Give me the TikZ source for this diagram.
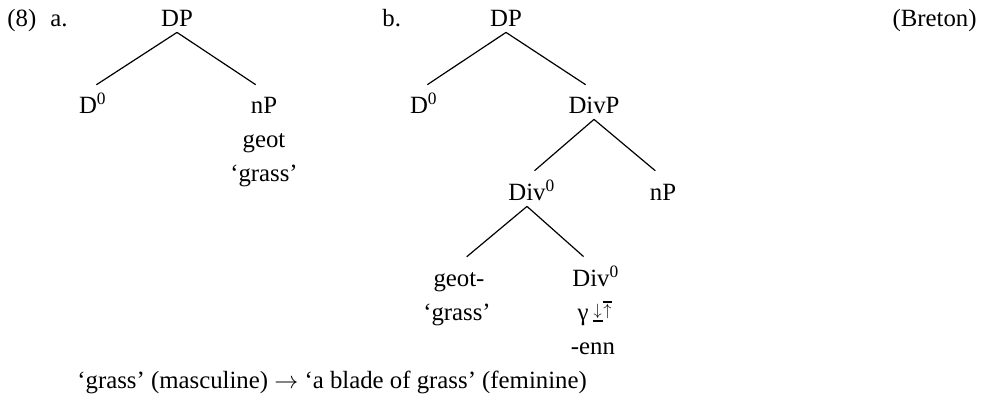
\documentclass[tikz,border=0pt]{standalone}
\usepackage{fontspec}
\setmainfont{Liberation Serif}
\usepackage{amsmath}
\usepackage{graphicx}
\usepackage{tikz}

\newcommand{\hd}[2]{#1\rlap{\textsuperscript{#2}}}
\newcommand{\arr}[1]{\makebox[0.4em]{\raisebox{0.17em}{\scalebox{0.68}{$#1$}}}}
\newcommand{\dnbar}{\rlap{\rule[-0.07em]{0.4em}{0.06em}}\arr{\downarrow}}
\newcommand{\upbar}{\rlap{\rule[0.7em]{0.4em}{0.06em}}\arr{\uparrow}}

\begin{document}
\begin{tikzpicture}[x=0.5pt,y=0.5pt]
	\tikzstyle{every node}+=[inner xsep=0pt, inner ysep=3pt, anchor=base, text height=8.2pt, text depth=0pt, font=\fontsize{12.4}{15}\selectfont]
	\tikzstyle{branch}=[black, line width=0.6pt, shorten >=5pt]
	\useasboundingbox (0,0) rectangle (986,-407);
	% labels
	\node (exnum) [anchor=base west] at (7,-26) {(8)};
	\node (exa) [anchor=base west] at (50,-26) {a.};
	\node (exb) [anchor=base west] at (382,-26) {b.};
	\node (lang) [anchor=base east] at (977,-26) {(Breton)};
	% tree a
	\node (dpa) at (177,-26) {DP};
	\node (da) at (88,-113) {\hd{D}{0}};
	\node (npa) at (264,-113) {nP};
	\node (geota) at (264,-147) {geot};
	\node (grassa) at (264,-181) {`grass'};
	\draw [branch] (dpa.south) -- (da.north);
	\draw [branch] (dpa.south) -- (npa.north);
	% tree b
	\node (dpb) at (506,-26) {DP};
	\node (db) at (419,-113) {\hd{D}{0}};
	\node (divp) at (594,-113) {DivP};
	\node (diva) at (527,-200) {\hd{Div}{0}};
	\node (npb) at (663,-200) {nP};
	\node (geotb) at (459,-286) {geot-};
	\node (grassb) at (457,-320) {`grass'};
	\node (divb) at (591,-286) {\hd{Div}{0}};
	\node (gamma) at (595,-320) {γ\,\dnbar\upbar};
	\node (enn) at (593,-354) {-enn};
	\draw [branch] (dpb.south) -- (db.north);
	\draw [branch] (dpb.south) -- (divp.north);
	\draw [branch] (divp.south) -- (diva.north);
	\draw [branch] (divp.south) -- (npb.north);
	\draw [branch] (diva.south) -- (geotb.north);
	\draw [branch] (diva.south) -- (divb.north);
	% gloss
	\node (gloss) [anchor=base west] at (77,-388) {`grass' (masculine) $\rightarrow$ `a blade of grass' (feminine)};
\end{tikzpicture}
\end{document}
